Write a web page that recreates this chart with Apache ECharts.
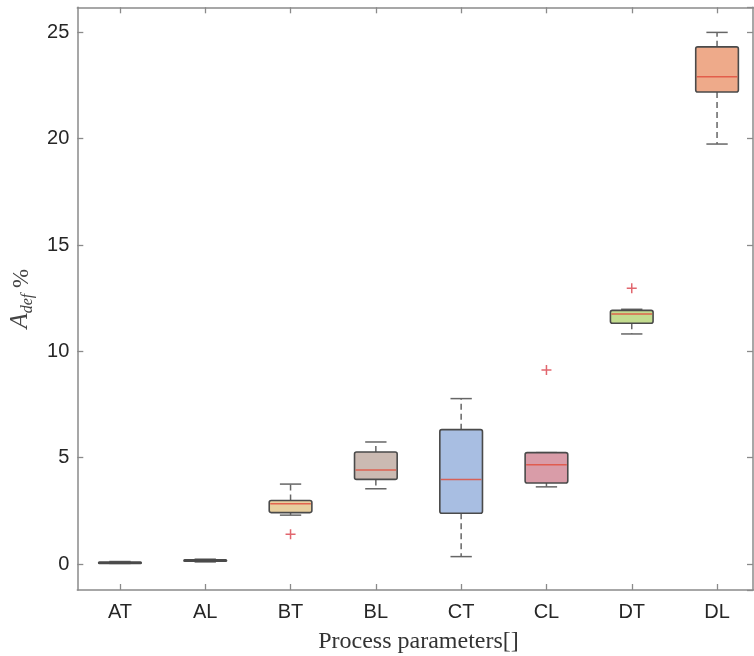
<!DOCTYPE html>
<html>
<head>
<meta charset="utf-8">
<script src="https://cdn.jsdelivr.net/npm/echarts@6/dist/echarts.min.js"></script>
<style>html,body{margin:0;padding:0;background:#fff}#c{width:754px;height:656px}</style>
</head>
<body>
<div id="c"></div>
<script>
const categories = ['AT', 'AL', 'BT', 'BL', 'CT', 'CL', 'DT', 'DL'];
const whiskerLow  = [0.03, 0.10, 2.30, 3.54, 0.35, 3.63, 10.82, 19.75];
const q1          = [0.06, 0.13, 2.42, 3.98, 2.39, 3.81, 11.32, 22.20];
const median      = [0.08, 0.16, 2.83, 4.42, 3.98, 4.67, 11.76, 22.92];
const q3          = [0.10, 0.20, 2.99, 5.27, 6.32, 5.24, 11.93, 24.32];
const whiskerHigh = [0.12, 0.23, 3.76, 5.74, 7.78, 5.24, 11.98, 25.00];
const fills       = ['#3a3a3a', '#3a3a3a', '#e8cf9e', '#cbbab2', '#a8bee2', '#d99ca8', '#c3dc8f', '#eeaa8a'];
const outlierCat  = ['BT', 'CL', 'DT'];
const outlierVal  = [1.40, 9.12, 12.97];
const yTicks = [0, 5, 10, 15, 20, 25];

const boxData = categories.map((c, i) => [i, whiskerLow[i], q1[i], median[i], q3[i], whiskerHigh[i]]);
const outData = outlierCat.map((c, i) => [categories.indexOf(c), outlierVal[i]]);

const chart = echarts.init(document.getElementById('c'));
const axisColor = '#8a8a8a';
const yMin = -1.22, yMax = 26.18;
const tick = {show: true, inside: true, length: 6, lineStyle: {color: axisColor, width: 1.3}};

function renderBox(params, api) {
  const idx = api.value(0);
  const lo = api.coord([idx, api.value(1)]);
  const b1 = api.coord([idx, api.value(2)]);
  const md = api.coord([idx, api.value(3)]);
  const b3 = api.coord([idx, api.value(4)]);
  const hi = api.coord([idx, api.value(5)]);
  const bw = api.size([1, 0])[0] * 0.5;
  const cw = bw * 0.5;
  const x = lo[0];
  const wStyle = {stroke: '#666', lineWidth: 1.5, lineDash: [6, 4]};
  const capStyle = {stroke: '#666', lineWidth: 1.5};
  const children = [];
  if (hi[1] < b3[1] - 0.5) {
    children.push({type: 'line', shape: {x1: x, y1: b3[1], x2: x, y2: hi[1]}, style: wStyle});
  }
  if (lo[1] > b1[1] + 0.5) {
    children.push({type: 'line', shape: {x1: x, y1: b1[1], x2: x, y2: lo[1]}, style: wStyle});
  }
  children.push({type: 'line', shape: {x1: x - cw / 2, y1: hi[1], x2: x + cw / 2, y2: hi[1]}, style: capStyle});
  children.push({type: 'line', shape: {x1: x - cw / 2, y1: lo[1], x2: x + cw / 2, y2: lo[1]}, style: capStyle});
  children.push({type: 'rect', shape: {x: x - bw / 2, y: b3[1], width: bw, height: Math.max(b1[1] - b3[1], 1.5), r: 2},
    style: {fill: fills[idx], stroke: '#4a4a4a', lineWidth: 1.6}});
  children.push({type: 'line', shape: {x1: x - bw / 2 + 1, y1: md[1], x2: x + bw / 2 - 1, y2: md[1]},
    style: {stroke: '#e0513f', lineWidth: 1.5, opacity: idx < 2 ? 0 : 0.85}});
  return {type: 'group', children};
}

chart.setOption({
  animation: false,
  backgroundColor: '#fff',
  grid: {left: 77.3, top: 7.3, width: 682.4, height: 582.7, outerBoundsMode: 'none', containLabel: false},
  xAxis: [{
    type: 'category', data: categories, position: 'bottom',
    axisLine: {show: true, onZero: false, lineStyle: {color: axisColor, width: 1.5}},
    axisTick: Object.assign({alignWithLabel: true}, tick),
    axisLabel: {fontSize: 20, color: '#262626', margin: 12, fontFamily: 'Liberation Sans'},
    name: 'Process parameters[]', nameLocation: 'middle', nameGap: 40,
    nameTextStyle: {fontFamily: 'Liberation Serif', fontSize: 24, color: '#333'}
  }, {
    type: 'category', data: categories, position: 'top',
    axisLine: {show: true, onZero: false, lineStyle: {color: axisColor, width: 1.5}},
    axisTick: Object.assign({alignWithLabel: true}, tick),
    axisLabel: {show: false}
  }],
  yAxis: [{
    type: 'value', min: yMin, max: yMax, position: 'left',
    splitLine: {show: false},
    axisLine: {show: true, onZero: false, lineStyle: {color: axisColor, width: 1.5}},
    axisTick: tick,
    axisLabel: {fontSize: 20, color: '#262626', margin: 8, fontFamily: 'Liberation Sans',
      showMinLabel: false, showMaxLabel: false,
      formatter: v => yTicks.includes(Math.round(v * 1000) / 1000) ? String(v) : ''},
    name: '{a|A}{s|def}{p| %}', nameLocation: 'middle', nameGap: 42, nameRotate: 90,
    nameTextStyle: {
      rich: {
        a: {fontFamily: 'Liberation Serif', fontStyle: 'italic', fontSize: 25, color: '#444', verticalAlign: 'bottom'},
        s: {fontFamily: 'Liberation Serif', fontStyle: 'italic', fontSize: 16, color: '#444', verticalAlign: 'bottom', padding: [0, 0, -3, 0]},
        p: {fontFamily: 'Liberation Serif', fontSize: 23, color: '#444', verticalAlign: 'bottom'}
      }
    }
  }, {
    type: 'value', min: yMin, max: yMax, position: 'right', offset: -6.7,
    splitLine: {show: false},
    axisLine: {show: true, onZero: false, lineStyle: {color: axisColor, width: 1.5}},
    axisTick: tick,
    axisLabel: {show: false}
  }],
  series: [{
    type: 'custom', xAxisIndex: 0, yAxisIndex: 0,
    renderItem: renderBox, data: boxData, z: 2
  }, {
    type: 'scatter', xAxisIndex: 0, yAxisIndex: 0, data: outData,
    symbol: 'path://M5,0L5,10M0,5L10,5', symbolSize: 10,
    itemStyle: {color: 'transparent', borderColor: '#d9404a', borderWidth: 1.5}, z: 3
  }]
});
</script>
</body>
</html>
